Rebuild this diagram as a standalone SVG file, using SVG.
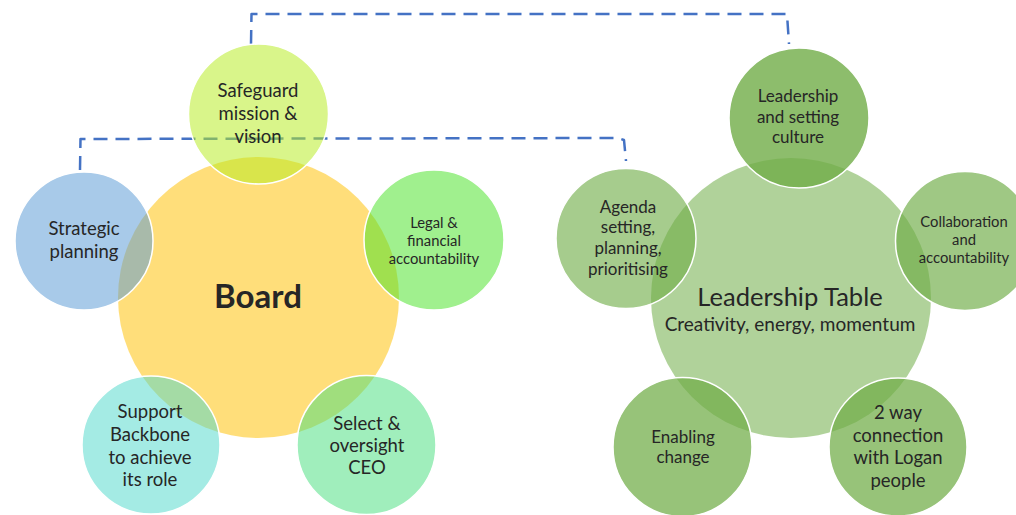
<svg xmlns="http://www.w3.org/2000/svg" width="1016" height="515" viewBox="0 0 1016 515">
  <style>
    .hub { stroke: none; }
    .sat { stroke: #ffffff; stroke-width: 1.5; }
    .t { font-family: Lato, "Open Sans", "Liberation Sans", sans-serif; fill: #262626; text-anchor: middle; }
    .t17 { font-size: 18.5px; }
    .t16 { font-size: 17px; }
    .t14 { font-size: 14.8px; }
    .link { fill: none; stroke: #4472C4; stroke-width: 2.5; stroke-dasharray: 14 8; stroke-linejoin: round; }
  </style>

  <rect width="1016" height="515" fill="#ffffff"/>

  <!-- dashed links between the two groups -->
  <g id="connectors">
    <path class="link" d="M251,44 L251.5,14 L787,14 L789,44"/>
    <path class="link" d="M80,170 L80.5,139 L618,138 L624,140 L626,161"/>
  </g>

  <!-- Board cluster -->
  <g id="board">
    <circle class="hub" cx="258.5" cy="297.5" r="140.5" fill="#FFC000" fill-opacity="0.52"/>
    <text class="t" x="258" y="308" font-size="33" font-weight="700">Board</text>
  </g>

  <g id="safeguard">
    <circle class="sat" cx="258.5" cy="114" r="70" fill="#B7EC22" fill-opacity="0.53"/>
    <text class="t t17" x="258" y="97">Safeguard</text>
    <text class="t t17" x="258" y="120">mission &amp;</text>
    <text class="t t17" x="258" y="143">vision</text>
  </g>

  <g id="strategic">
    <circle class="sat" cx="84" cy="241" r="69" fill="#5B9BD5" fill-opacity="0.53"/>
    <text class="t t17" x="84" y="235">Strategic</text>
    <text class="t t17" x="84" y="258">planning</text>
  </g>

  <g id="legal">
    <circle class="sat" cx="434" cy="240" r="70" fill="#4CE32A" fill-opacity="0.53"/>
    <text class="t t14" x="434" y="228">Legal &amp;</text>
    <text class="t t14" x="434" y="246">financial</text>
    <text class="t t14" x="434" y="264">accountability</text>
  </g>

  <g id="support">
    <circle class="sat" cx="151" cy="445" r="69" fill="#53D9CC" fill-opacity="0.53"/>
    <text class="t t17" x="150" y="418">Support</text>
    <text class="t t17" x="150" y="441">Backbone</text>
    <text class="t t17" x="150" y="464">to achieve</text>
    <text class="t t17" x="150" y="486">its role</text>
  </g>

  <g id="select">
    <circle class="sat" cx="366.5" cy="445" r="69.5" fill="#4CDF81" fill-opacity="0.53"/>
    <text class="t t17" x="367" y="430">Select &amp;</text>
    <text class="t t17" x="367" y="452">oversight</text>
    <text class="t t17" x="367" y="474">CEO</text>
  </g>

  <!-- Leadership Table cluster -->
  <g id="leadership-table">
    <circle class="hub" cx="791" cy="298" r="140" fill="#70AD47" fill-opacity="0.55"/>
    <text class="t" x="790" y="306" font-size="25.5">Leadership Table</text>
    <text class="t" x="790" y="331" font-size="19">Creativity, energy, momentum</text>
  </g>

  <g id="culture">
    <circle class="sat" cx="799" cy="118" r="70" fill="#70AD47" fill-opacity="0.8"/>
    <text class="t t16" x="798" y="102">Leadership</text>
    <text class="t t16" x="798" y="123">and setting</text>
    <text class="t t16" x="798" y="143">culture</text>
  </g>

  <g id="agenda">
    <circle class="sat" cx="626" cy="238.5" r="70" fill="#70AD47" fill-opacity="0.62"/>
    <text class="t t16" x="628" y="213">Agenda</text>
    <text class="t t16" x="628" y="233">setting,</text>
    <text class="t t16" x="628" y="254">planning,</text>
    <text class="t t16" x="628" y="275">prioritising</text>
  </g>

  <g id="collaboration">
    <circle class="sat" cx="965" cy="241" r="69.5" fill="#70AD47" fill-opacity="0.67"/>
    <text class="t t14" x="964" y="227">Collaboration</text>
    <text class="t t14" x="964" y="245">and</text>
    <text class="t t14" x="964" y="263">accountability</text>
  </g>

  <g id="enabling">
    <circle class="sat" cx="682.5" cy="447" r="69.5" fill="#70AD47" fill-opacity="0.73"/>
    <text class="t t16" x="683" y="443">Enabling</text>
    <text class="t t16" x="683" y="463">change</text>
  </g>

  <g id="two-way">
    <circle class="sat" cx="898" cy="447" r="69" fill="#70AD47" fill-opacity="0.73"/>
    <text class="t t17" x="898" y="419">2 way</text>
    <text class="t t17" x="898" y="442">connection</text>
    <text class="t t17" x="898" y="464">with Logan</text>
    <text class="t t17" x="898" y="487">people</text>
  </g>
</svg>
